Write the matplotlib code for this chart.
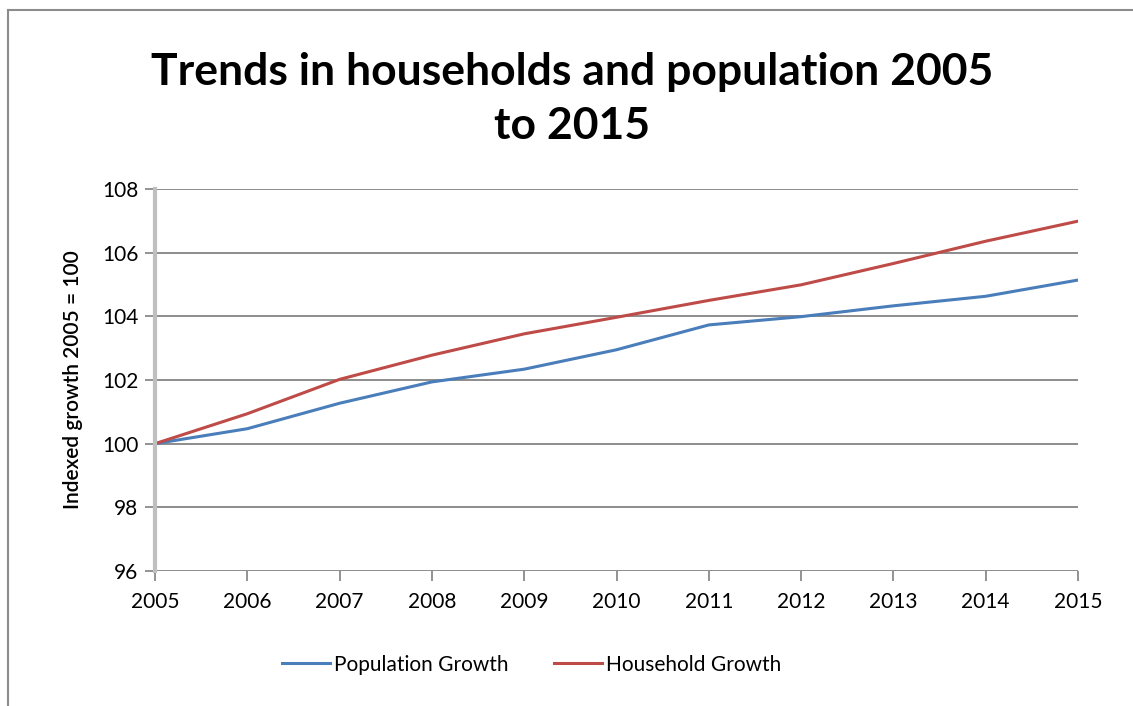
import matplotlib.pyplot as plt
from matplotlib.lines import Line2D

# Data (indexed growth, 2005 = 100)
years = [2005, 2006, 2007, 2008, 2009, 2010, 2011, 2012, 2013, 2014, 2015]
population = [100.0, 100.47, 101.27, 101.94, 102.34, 102.95, 103.73, 103.99, 104.33, 104.63, 105.14]
households = [100.0, 100.94, 102.02, 102.78, 103.45, 103.97, 104.50, 104.99, 105.66, 106.36, 106.99]
yticks = [96, 98, 100, 102, 104, 106, 108]

plt.rcParams['font.family'] = ['Lato', 'DejaVu Sans']

fig = plt.figure(figsize=(11.33, 7.06), dpi=100)
ax = fig.add_axes([155 / 1133, 1 - 571 / 706, (1078 - 155) / 1133, (571 - 189) / 706])

ax.plot(years, population, color='#4a7ebb', linewidth=2.2, label='Population Growth')
ax.plot(years, households, color='#be4b48', linewidth=2.2, label='Household Growth')

ax.set_xlim(2005, 2015)
ax.set_ylim(96, 108)
ax.set_xticks(years)
ax.set_yticks(yticks)
ax.tick_params(axis='both', labelsize=15, colors='#000000', length=7, width=1.2)
ax.tick_params(axis='x', color='#808080', pad=8)
ax.tick_params(axis='y', color='#808080', pad=5)
ax.grid(axis='y', color='#8c8c8c', linewidth=1.4)
ax.set_axisbelow(True)

for side in ['top', 'right', 'bottom']:
    ax.spines[side].set_visible(False)
ax.spines['left'].set_color('#bfbfbf')
ax.spines['left'].set_linewidth(3)
ax.spines['left'].set_zorder(3)

ax.set_ylabel('Indexed growth 2005 = 100', fontsize=15, fontweight='semibold', labelpad=14)

fig.text(0.505, 1 - 99 / 706, 'Trends in households and population 2005\nto 2015',
         ha='center', va='center', fontsize=32, fontweight='bold', linespacing=1.4)

ax.legend(loc='center', bbox_to_anchor=(0.408, -0.245), ncol=2, frameon=False,
          fontsize=15, handlelength=2.3, handletextpad=0.2, columnspacing=2.2)

# chart area border (top and left visible)
fig.add_artist(Line2D([8 / 1133, 8 / 1133], [0, 1 - 10 / 706], color='#8c8c8c', linewidth=1.5))
fig.add_artist(Line2D([8 / 1133, 1], [1 - 10 / 706, 1 - 10 / 706], color='#8c8c8c', linewidth=1.5))

fig.savefig('out.png', dpi=100)
